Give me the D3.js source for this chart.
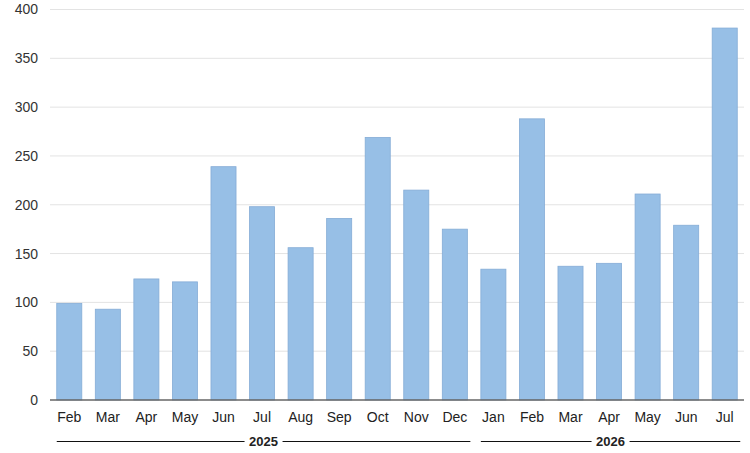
<!DOCTYPE html>
<html>
<head>
<meta charset="utf-8">
<script src="https://cdn.jsdelivr.net/npm/d3@7"></script>
<style>
  body { margin: 0; background: #fff; }
  .chart text { font-family: "Helvetica Neue", Helvetica, "Liberation Sans", Arial, sans-serif; }
</style>
</head>
<body>
<div class="chart"></div>
<script>
var months = ["Feb", "Mar", "Apr", "May", "Jun", "Jul", "Aug", "Sep", "Oct", "Nov", "Dec",
              "Jan", "Feb", "Mar", "Apr", "May", "Jun", "Jul"];
var years = ["2025", "2025", "2025", "2025", "2025", "2025", "2025", "2025", "2025", "2025", "2025",
             "2026", "2026", "2026", "2026", "2026", "2026", "2026"];
var values = [99, 93, 124, 121, 239, 198, 156, 186, 269, 215, 175,
              134, 288, 137, 140, 211, 179, 381];
var yTicks = [0, 50, 100, 150, 200, 250, 300, 350, 400];

var width = 750, height = 453;
var margin = {top: 9.5, right: 6, bottom: 53, left: 50};

var data = months.map(function(m, i) {
    return {key: i, month: m, year: years[i], value: values[i]};
});

var x = d3.scaleBand()
    .domain(data.map(function(d) { return d.key; }))
    .range([margin.left, width - margin.right])
    .paddingInner(0.35)
    .paddingOuter(0.175);

var y = d3.scaleLinear()
    .domain([0, 400])
    .range([height - margin.bottom, margin.top]);

var svg = d3.select(".chart").append("svg")
    .attr("width", width)
    .attr("height", height);

// grid
svg.append("g")
    .selectAll("line")
    .data(yTicks.filter(function(t) { return t > 0; }))
    .enter()
    .append("line")
    .attr("x1", margin.left)
    .attr("x2", width - margin.right)
    .attr("y1", function(d) { return y(d); })
    .attr("y2", function(d) { return y(d); })
    .attr("stroke", "#e3e3e3")
    .attr("stroke-width", 1);

// y labels
var yAxis = svg.append("g")
    .attr("transform", "translate(" + (margin.left - 12) + ",0)")
    .call(d3.axisLeft(y).tickValues(yTicks).tickSize(0).tickPadding(0));
yAxis.select(".domain").remove();
yAxis.selectAll("text")
    .attr("font-size", 14)
    .attr("fill", "#333");

// bars
svg.append("g")
    .selectAll("rect")
    .data(data)
    .enter()
    .append("rect")
    .attr("x", function(d) { return x(d.key); })
    .attr("y", function(d) { return y(d.value); })
    .attr("width", x.bandwidth())
    .attr("height", function(d) { return y(0) - y(d.value); })
    .attr("fill", "#97bfe6")
    .attr("stroke", "#85acd6")
    .attr("stroke-width", 0.8);

// baseline
svg.append("line")
    .attr("x1", margin.left)
    .attr("x2", width - margin.right)
    .attr("y1", y(0))
    .attr("y2", y(0))
    .attr("stroke", "#666")
    .attr("stroke-width", 1.5);

// month labels
var xAxis = svg.append("g")
    .attr("transform", "translate(0," + y(0) + ")")
    .call(d3.axisBottom(x).tickSize(0).tickPadding(12)
        .tickFormat(function(k) { return months[k]; }));
xAxis.select(".domain").remove();
xAxis.selectAll("text")
    .attr("font-size", 14)
    .attr("fill", "#222");

// year groups
var groups = d3.groups(data, function(d) { return d.year; });
var lineY = 441.5;
var yearG = svg.append("g");
groups.forEach(function(g) {
    var items = g[1];
    var x0 = x(items[0].key);
    var x1 = x(items[items.length - 1].key) + x.bandwidth() + 3;
    var cx = (x0 + x1) / 2;
    var half = 19;
    yearG.append("line")
        .attr("x1", x0).attr("x2", cx - half)
        .attr("y1", lineY).attr("y2", lineY)
        .attr("stroke", "#111").attr("stroke-width", 1.2);
    yearG.append("line")
        .attr("x1", cx + half).attr("x2", x1)
        .attr("y1", lineY).attr("y2", lineY)
        .attr("stroke", "#111").attr("stroke-width", 1.2);
    yearG.append("text")
        .attr("x", cx)
        .attr("y", lineY + 4.5)
        .attr("text-anchor", "middle")
        .attr("font-size", 13)
        .attr("font-weight", "bold")
        .attr("fill", "#222")
        .text(g[0]);
});
</script>
</body>
</html>
